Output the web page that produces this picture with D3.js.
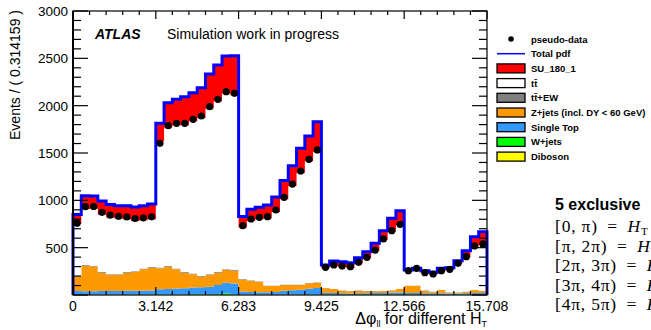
<!DOCTYPE html>
<meta charset="utf-8">
<script src="https://cdn.jsdelivr.net/npm/d3@7"></script>
<style>
  body { margin: 0; background: #fff; }
  text { font-family: "Liberation Sans", Arial, sans-serif; fill: #000; }
  .leg { font-size: 9.5px; font-weight: bold; }
  .math { font-family: "Liberation Serif", "DejaVu Serif", serif; font-size: 17.5px; letter-spacing: 0.8px; }
</style>
<body>
<script>
  // 50 bins of width pi/10, five H_T regions of ten bins each
  var nBins = 50;

  var diboson = [2,2,2,2,2,2,2,2,2,2, 2,2,2,2,2,2,2,2,2,2, 2,2,2,2,2,2,2,2,2,2,
                 1,1,1,1,1,1,1,1,1,1, 1,1,1,1,1,1,1,1,1,1];
  var wjets = [4,4,4,4,4,4,4,4,4,4, 4,4,4,4,5,5,6,8,16,6, 3,3,3,3,3,3,3,3,3,3,
               3,3,3,3,3,3,3,3,3,3, 3,3,3,3,3,3,3,3,3,3];
  var singleTop = [36,34,34,36,36,36,38,39,40,42, 56,58,62,66,71,75,80,96,112,114,
                   33,28,25,23,27,40,45,50,60,70, 18,16,14,12,14,14,16,18,20,22,
                   16,16,14,14,14,13,13,14,16,16];
  var zjets = [151,270,260,194,169,169,192,198,225,241, 220,235,203,164,140,111,123,130,134,135,
               127,118,111,67,63,61,56,51,58,55, 48,44,30,23,28,21,19,20,22,38,
               78,78,28,17,35,8,8,17,33,22];
  var ttEW = [6,8,8,7,7,7,7,7,8,8, 8,8,8,8,8,9,9,9,9,9, 5,5,5,5,5,5,5,5,5,5,
              3,3,3,3,3,3,3,3,3,3, 3,3,3,3,3,3,3,3,3,3];
  var ttbar = [551,590,602,605,600,589,557,533,511,504,
               1333,1462,1514,1549,1610,1669,1749,1802,1855,1844,
               542,627,654,707,778,901,1041,1179,1285,1377,
               209,240,245,247,286,346,423,537,620,670,
               151,171,182,179,196,238,302,362,457,489];
  var su180 = [100,140,135,145,137,135,142,147,152,159,
               190,263,274,302,301,319,365,383,397,418,
               118,123,128,143,157,198,213,259,267,319,
               35,52,56,52,59,70,81,97,141,154,
               12,10,26,23,30,23,33,68,103,135];
  var pseudoData = [757,933,935,873,843,832,825,808,815,826,
                    1602,1789,1813,1813,1856,1891,1989,2067,2148,2130,
                    732,803,820,827,898,1032,1172,1310,1433,1532,
                    292,317,306,299,345,398,475,592,679,747,
                    257,282,236,222,257,271,335,405,518,539];

  var xTickValues = [0, Math.PI, 2 * Math.PI, 3 * Math.PI, 4 * Math.PI, 5 * Math.PI];
  var xTickLabels = ["0", "3.142", "6.283", "9.425", "12.566", "15.708"];
  var yTickValues = [500, 1000, 1500, 2000, 2500, 3000];

  var keys = ["diboson", "wjets", "singleTop", "zjets", "ttEW", "ttbar", "su180"];
  var colors = {
    diboson: "#ffff00", wjets: "#00ff00", singleTop: "#3399ff", zjets: "#ff9900",
    ttEW: "#808080", ttbar: "#ffffff", su180: "#ff0000"
  };
  var legendItems = [
    { label: "pseudo-data", kind: "dot" },
    { label: "Total pdf", kind: "line" },
    { label: "SU_180_1", kind: "box", key: "su180" },
    { label: "t\u0074\u0304", kind: "box", key: "ttbar" },
    { label: "t\u0074\u0304+EW", kind: "box", key: "ttEW" },
    { label: "Z+jets (incl. DY < 60 GeV)", kind: "box", key: "zjets" },
    { label: "Single Top", kind: "box", key: "singleTop" },
    { label: "W+jets", kind: "box", key: "wjets" },
    { label: "Diboson", kind: "box", key: "diboson" }
  ];
  var rangeLines = [
    ["[0, \u03c0)", "H", "T"],
    ["[\u03c0, 2\u03c0)", "H", "T"],
    ["[2\u03c0, 3\u03c0)", "H", "T"],
    ["[3\u03c0, 4\u03c0)", "H", "T"],
    ["[4\u03c0, 5\u03c0)", "H", "T"]
  ];

  var width = 651, height = 330;
  var binW = Math.PI / 10;

  // build table for the stack
  var table = d3.range(nBins).map(function (i) {
    return {
      i: i, diboson: diboson[i], wjets: wjets[i], singleTop: singleTop[i], zjets: zjets[i],
      ttEW: ttEW[i], ttbar: ttbar[i], su180: su180[i]
    };
  });
  var series = d3.stack().keys(keys)(table);
  var totals = table.map(function (d) {
    return d3.sum(keys, function (k) { return d[k]; });
  });

  var x = d3.scaleLinear().domain([0, 5 * Math.PI]).range([73, 487]);
  var y = d3.scaleLinear().domain([0, 3000]).range([295, 11]);

  var svg = d3.select("body").append("svg")
    .attr("width", width)
    .attr("height", height);

  // stacked histogram layers
  var area = d3.area()
    .curve(d3.curveStepAfter)
    .x(function (d) { return x(d.e); })
    .y0(function (d) { return y(d.v[0]); })
    .y1(function (d) { return y(d.v[1]); });

  svg.append("g")
    .selectAll("path")
    .data(series)
    .enter().append("path")
    .attr("fill", function (s) { return colors[s.key]; })
    .attr("d", function (s) {
      var pts = s.map(function (v, i) { return { e: i * binW, v: v }; });
      pts.push({ e: nBins * binW, v: s[nBins - 1] });
      return area(pts);
    });

  // total pdf outline
  var tp = "M" + x(0) + "," + y(0);
  totals.forEach(function (t, i) {
    tp += "V" + y(t) + "H" + x((i + 1) * binW);
  });
  tp += "V" + y(0);
  svg.append("path")
    .attr("d", tp)
    .attr("fill", "none")
    .attr("stroke", "#0000ff")
    .attr("stroke-width", 3)
    .attr("stroke-linejoin", "miter");

  // pseudo-data points
  svg.append("g")
    .selectAll("circle")
    .data(pseudoData)
    .enter().append("circle")
    .attr("cx", function (d, i) { return x((i + 0.5) * binW); })
    .attr("cy", function (d) { return y(d); })
    .attr("r", 3.6)
    .attr("fill", "#000");

  // frame
  var frame = svg.append("g").attr("stroke", "#000").attr("fill", "none");
  frame.append("rect")
    .attr("x", x(0)).attr("y", y(3000))
    .attr("width", x(5 * Math.PI) - x(0)).attr("height", y(0) - y(3000))
    .attr("stroke-width", 1.2);

  // y axes (left with labels, right mirrored), ticks inward
  var yMinor = d3.range(0, 3001, 100);
  yMinor.forEach(function (v) {
    var len = v % 500 === 0 ? 15 : 8;
    frame.append("line").attr("x1", x(0)).attr("x2", x(0) + len)
      .attr("y1", y(v)).attr("y2", y(v)).attr("stroke-width", 1.2);
    frame.append("line").attr("x1", x(5 * Math.PI)).attr("x2", x(5 * Math.PI) - len)
      .attr("y1", y(v)).attr("y2", y(v)).attr("stroke-width", 1.2);
  });
  frame.append("line").attr("x1", x(0)).attr("x2", x(0))
    .attr("y1", y(0)).attr("y2", y(3000)).attr("stroke-width", 2);

  svg.append("g").selectAll("text")
    .data(yTickValues)
    .enter().append("text")
    .attr("x", x(0) - 5)
    .attr("y", function (d) { return y(d) + 5; })
    .attr("text-anchor", "end")
    .style("font-size", "13.5px")
    .text(function (d) { return d; });

  // x axes
  var xMinor = d3.range(0, 26).map(function (i) { return i * Math.PI / 5; });
  xMinor.forEach(function (v, i) {
    var len = i % 5 === 0 ? 8 : 4;
    frame.append("line").attr("x1", x(v)).attr("x2", x(v))
      .attr("y1", y(0)).attr("y2", y(0) - len).attr("stroke-width", 1.2);
    frame.append("line").attr("x1", x(v)).attr("x2", x(v))
      .attr("y1", y(3000)).attr("y2", y(3000) + len).attr("stroke-width", 1.2);
  });

  svg.append("g").selectAll("text")
    .data(xTickValues)
    .enter().append("text")
    .attr("x", function (d) { return x(d); })
    .attr("y", 311)
    .attr("text-anchor", "middle")
    .style("font-size", "14px")
    .text(function (d, i) { return xTickLabels[i]; });

  // axis titles
  svg.append("text")
    .attr("transform", "translate(20,10) rotate(-90)")
    .attr("text-anchor", "end")
    .style("font-size", "14px")
    .text("Events / ( 0.314159 )");

  var xt = svg.append("text")
    .attr("x", 487).attr("y", 324)
    .attr("text-anchor", "end")
    .style("font-size", "16px");
  xt.append("tspan").text("\u0394\u03c6");
  xt.append("tspan").attr("dy", 3).style("font-size", "9px").text("ll");
  xt.append("tspan").attr("dy", -3).text(" for different H");
  xt.append("tspan").attr("dy", 3).style("font-size", "9px").text("T");

  // ATLAS label
  svg.append("text")
    .attr("x", 95).attr("y", 39)
    .style("font-size", "14px").style("font-weight", "bold").style("font-style", "italic")
    .text("ATLAS");
  svg.append("text")
    .attr("x", 167).attr("y", 39)
    .style("font-size", "14px")
    .text("Simulation work in progress");

  // legend
  var leg = svg.append("g").selectAll("g")
    .data(legendItems)
    .enter().append("g")
    .attr("transform", function (d, i) { return "translate(0," + (39 + i * 14.7) + ")"; });

  leg.each(function (d) {
    var g = d3.select(this);
    if (d.kind === "dot") {
      g.append("circle").attr("cx", 511).attr("cy", 0).attr("r", 2.8).attr("fill", "#000");
    } else if (d.kind === "line") {
      g.append("line").attr("x1", 497).attr("x2", 525).attr("y1", 0).attr("y2", 0)
        .attr("stroke", "#0000ff").attr("stroke-width", 1.5);
    } else {
      g.append("rect").attr("x", 497).attr("y", -4.5).attr("width", 28).attr("height", 9)
        .attr("fill", colors[d.key]).attr("stroke", "#000").attr("stroke-width", 1.3);
    }
    g.append("text").attr("class", "leg").attr("x", 531).attr("y", 3.5).text(d.label);
  });

  // H_T region notes on the right (they run past the edge, as in the original)
  svg.append("text")
    .attr("x", 555).attr("y", 210)
    .style("font-size", "16px").style("font-weight", "bold")
    .text("5 exclusive");

  rangeLines.forEach(function (r, i) {
    var t = svg.append("text").attr("class", "math")
      .attr("x", 555).attr("y", 232 + i * 19.5);
    t.append("tspan").text(r[0] + "\u2002=\u2002");
    t.append("tspan").style("font-style", "italic").text(r[1]);
    t.append("tspan").attr("dy", 3).style("font-size", "11px").text(r[2]);
  });
</script>
</body>
